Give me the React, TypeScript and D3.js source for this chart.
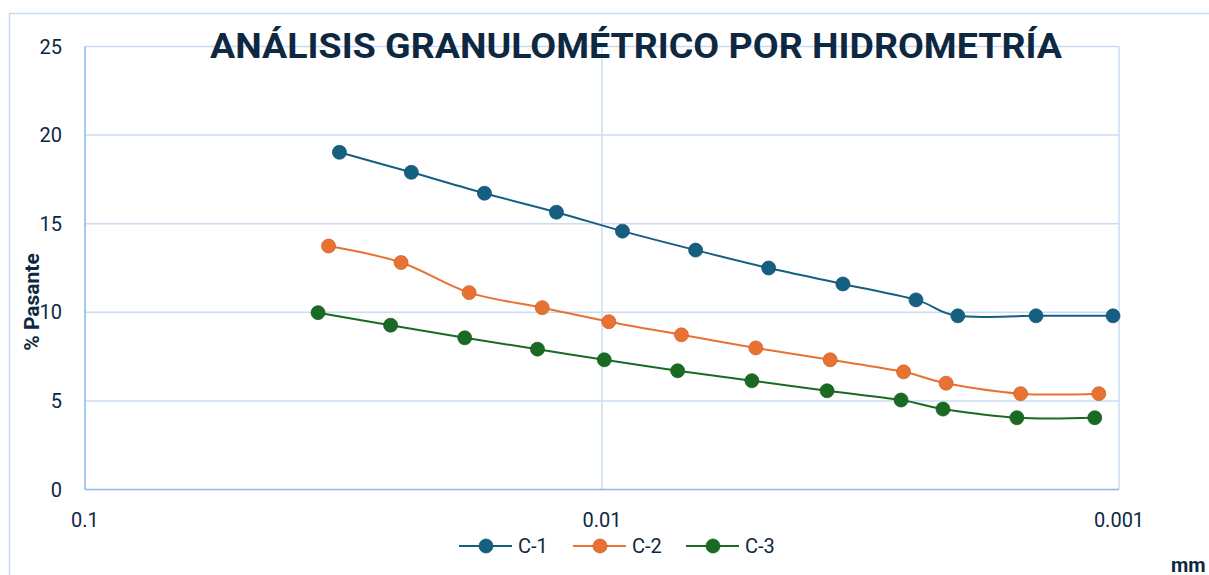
import React from "react";
import * as d3 from "d3";

const TITLE = "ANÁLISIS GRANULOMÉTRICO POR HIDROMETRÍA";
const Y_LABEL = "% Pasante";
const X_UNIT = "mm";

const SERIES_NAMES = ["C-1", "C-2", "C-3"];
const SERIES_COLORS = ["#156082", "#e97132", "#196b24"];

const C1_DIAM = [0.0322, 0.02338, 0.01688, 0.01225, 0.00913, 0.00659, 0.00476, 0.00342, 0.00247, 0.00205, 0.001447, 0.001027];
const C1_PASS = [19.03, 17.9, 16.72, 15.65, 14.58, 13.51, 12.5, 11.6, 10.7, 9.8, 9.8, 9.8];

const C2_DIAM = [0.0338, 0.02447, 0.01807, 0.01305, 0.0097, 0.00702, 0.00504, 0.00362, 0.00261, 0.00216, 0.00155, 0.001094];
const C2_PASS = [13.74, 12.81, 11.11, 10.26, 9.47, 8.73, 7.99, 7.32, 6.64, 6.0, 5.41, 5.41];

const C3_DIAM = [0.03542, 0.02564, 0.01843, 0.01333, 0.0099, 0.00714, 0.00513, 0.00367, 0.00264, 0.00219, 0.001576, 0.001114];
const C3_PASS = [9.98, 9.27, 8.56, 7.92, 7.32, 6.7, 6.14, 5.57, 5.05, 4.54, 4.05, 4.05];

const X_TICKS = [0.1, 0.01, 0.001];
const X_TICK_LABELS = ["0.1", "0.01", "0.001"];
const Y_TICKS = [0, 5, 10, 15, 20, 25];

const W = 1209;
const H = 575;
const L = 85, R = 1119, T = 46.5, B = 489.5;

const TEXT = "#0e2841";
const GRID = "#cadcf3";
const AXIS = "#8db6e9";
const FONT = "Roboto, sans-serif";

export default function App() {
  const x = d3.scaleLog().domain([0.1, 0.001]).range([L, R]);
  const y = d3.scaleLinear().domain([0, 25]).range([B, T]);
  const line = d3
    .line<[number, number]>()
    .x((d) => x(d[0]))
    .y((d) => y(d[1]))
    .curve(d3.curveCardinal.tension(0));

  const series = [
    { name: SERIES_NAMES[0], color: SERIES_COLORS[0], pts: C1_DIAM.map((d, i) => [d, C1_PASS[i]] as [number, number]) },
    { name: SERIES_NAMES[1], color: SERIES_COLORS[1], pts: C2_DIAM.map((d, i) => [d, C2_PASS[i]] as [number, number]) },
    { name: SERIES_NAMES[2], color: SERIES_COLORS[2], pts: C3_DIAM.map((d, i) => [d, C3_PASS[i]] as [number, number]) },
  ];

  const legendX = [459, 573, 686];

  return (
    <svg
      width={W}
      height={H}
      style={{ position: "absolute", left: 0, top: 0, display: "block", background: "#fff" }}
    >
      <rect x={9.5} y={13.5} width={1400} height={800} fill="#fff" stroke="#c8dcf4" strokeWidth={1.5} />

      {/* gridlines */}
      {Y_TICKS.filter((t) => t > 0).map((t) => (
        <line key={"gy" + t} x1={L} x2={R} y1={y(t)} y2={y(t)} stroke={GRID} strokeWidth={1.5} />
      ))}
      {X_TICKS.filter((t) => t < 0.1).map((t) => (
        <line key={"gx" + t} x1={x(t)} x2={x(t)} y1={T} y2={B} stroke={GRID} strokeWidth={1.5} />
      ))}
      {/* axes */}
      <line x1={L} x2={L} y1={T} y2={B} stroke={AXIS} strokeWidth={1.5} />
      <line x1={L} x2={R} y1={B} y2={B} stroke={AXIS} strokeWidth={1.5} />

      {/* tick labels */}
      {Y_TICKS.map((t) => (
        <text key={"ty" + t} x={62} y={y(t)} dy="0.35em" textAnchor="end" fontFamily={FONT} fontSize={20} fill={TEXT}>
          {t}
        </text>
      ))}
      {X_TICKS.map((t, i) => (
        <text key={"tx" + t} x={x(t)} y={527} textAnchor="middle" fontFamily={FONT} fontSize={20} fill={TEXT}>
          {X_TICK_LABELS[i]}
        </text>
      ))}

      {/* title */}
      <text x={636} y={58} textAnchor="middle" fontFamily={FONT} fontWeight={700} fontSize={35} fill={TEXT} textLength={852} lengthAdjust="spacingAndGlyphs">
        {TITLE}
      </text>

      {/* y label */}
      <text transform="translate(39,302) rotate(-90)" textAnchor="middle" fontFamily={FONT} fontWeight={700} fontSize={21} fill={TEXT}>
        {Y_LABEL}
      </text>
      <text x={1171} y={572} fontFamily={FONT} fontWeight={700} fontSize={20} fill={TEXT}>
        {X_UNIT}
      </text>

      {/* series */}
      {series.map((s) => (
        <g key={s.name}>
          <path d={line(s.pts) || ""} fill="none" stroke={s.color} strokeWidth={2} />
          {s.pts.map((p, i) => (
            <circle key={i} cx={x(p[0])} cy={y(p[1])} r={7} fill={s.color} stroke={d3.color(s.color)!.darker(0.4).toString()} strokeWidth={0.75} />
          ))}
        </g>
      ))}

      {/* legend */}
      {series.map((s, i) => (
        <g key={"lg" + s.name}>
          <line x1={legendX[i]} x2={legendX[i] + 53} y1={546} y2={546} stroke={s.color} strokeWidth={2} />
          <circle cx={legendX[i] + 27} cy={546} r={7} fill={s.color} stroke={d3.color(s.color)!.darker(0.4).toString()} strokeWidth={0.75} />
          <text x={legendX[i] + 59} y={546} dy="0.35em" fontFamily={FONT} fontSize={20} fill={TEXT}>
            {s.name}
          </text>
        </g>
      ))}
    </svg>
  );
}
